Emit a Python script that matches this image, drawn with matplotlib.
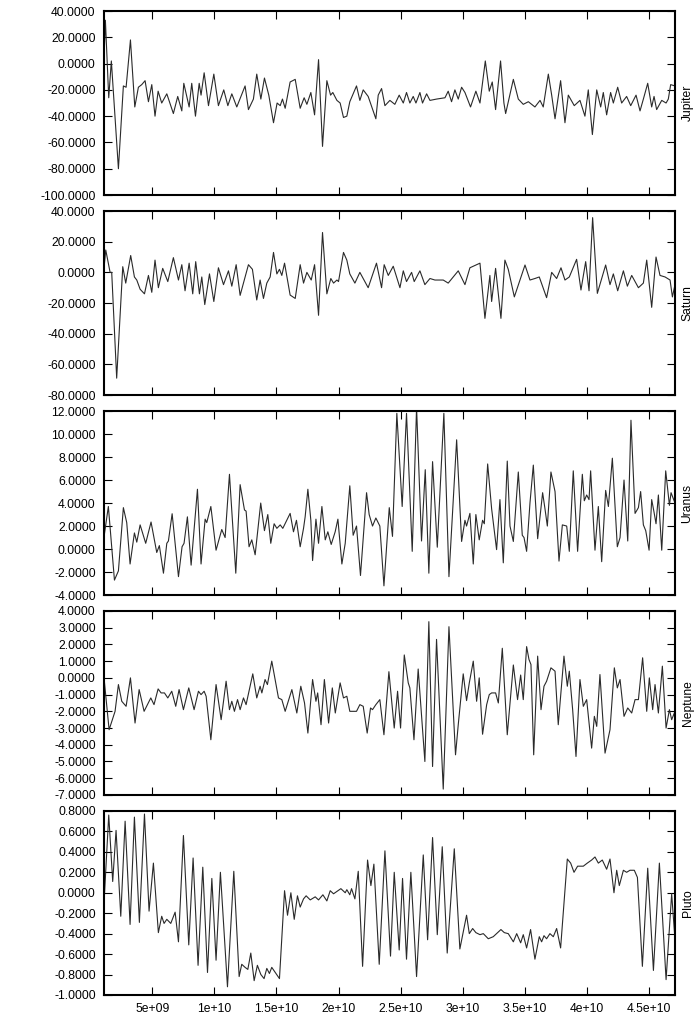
import numpy as np
import matplotlib
matplotlib.use("Agg")
import matplotlib.pyplot as plt
from matplotlib.ticker import FormatStrFormatter

plt.rcParams['font.family'] = ['Liberation Sans', 'DejaVu Sans']

# x values in units of 1e9
jupiter_x = [1.10, 1.21, 1.48, 1.69, 2.26, 2.66, 2.88, 3.23, 3.58, 3.87, 4.14, 4.41, 4.68, 4.95, 5.21,
             5.46, 5.75, 6.16, 6.69, 7.04, 7.37, 7.53, 7.96, 8.17, 8.47, 8.77, 8.92, 9.17, 9.52, 9.95,
             10.32, 10.75, 11.08, 11.40, 11.80, 12.47, 12.74, 13.14, 13.41, 13.74, 14.03, 14.38, 14.76,
             15.05, 15.30, 15.48, 15.70, 16.10, 16.51, 16.91, 17.23, 17.45, 17.77, 18.07, 18.39, 18.71,
             19.06, 19.36, 19.54, 19.87, 20.13, 20.40, 20.67, 20.91, 21.45, 21.72, 21.99, 22.39, 23.01,
             23.20, 23.47, 23.74, 24.14, 24.54, 24.89, 25.22, 25.48, 25.75, 26.02, 26.24, 26.56, 26.77,
             27.10, 27.37, 27.90, 28.58, 28.84, 29.11, 29.38, 29.65, 29.92, 30.19, 30.64, 31.07, 31.40,
             31.83, 32.15, 32.39, 32.66, 33.06, 33.33, 33.47, 34.09, 34.49, 34.89, 35.30, 35.83, 36.24,
             36.50, 36.91, 37.18, 37.45, 37.90, 38.25, 38.52, 39.00, 39.46, 39.86, 40.13, 40.46, 40.81,
             41.13, 41.34, 41.61, 41.93, 42.15, 42.50, 42.82, 43.22, 43.55, 43.98, 44.30, 44.57, 44.92,
             45.24, 45.43, 45.64, 46.05, 46.40, 46.58, 46.77, 47.12]
jupiter_y = [5, 33, -26, 2, -80, -17, -18, 18, -33, -18, -16, -13, -29, -16, -40,
             -21, -30, -23, -38, -25, -36, -15, -33, -15, -40, -15, -24, -7, -32, -8,
             -32, -20, -32, -23, -33, -17, -35, -27, -8, -27, -11, -24, -45,
             -30, -32, -27, -34, -14, -12, -34, -26, -31, -22, -39, 3, -63,
             -13, -24, -22, -28, -30, -41, -40, -29, -17, -28, -20, -25, -42,
             -24, -19, -32, -28, -31, -24, -30, -22, -30, -25, -30, -22, -30,
             -23, -28, -27, -26, -21, -29, -20, -27, -18, -22, -33, -21, -30,
             2, -21, -14, -35, 2, -30, -38, -12, -27, -31, -29, -33, -28,
             -33, -8, -24, -42, -13, -45, -24, -32, -28, -40, -20, -54, -20,
             -33, -22, -39, -22, -30, -18, -30, -25, -32, -24, -36, -27, -15,
             -33, -25, -35, -28, -30, -27, -16, -17]

saturn_x = [1.10, 1.24, 1.59, 1.72, 2.12, 2.61, 2.85, 3.25, 3.55, 3.74, 4.01, 4.36, 4.68, 4.95, 5.21,
            5.48, 5.83, 6.24, 6.69, 7.10, 7.37, 7.63, 7.96, 8.25, 8.49, 8.79, 8.98, 9.22, 9.60, 9.95,
            10.32, 10.73, 11.13, 11.40, 11.75, 12.07, 12.74, 13.06, 13.41, 13.68, 13.95, 14.22, 14.49,
            14.76, 15.03, 15.24, 15.43, 15.65, 16.10, 16.51, 16.91, 17.18, 17.45, 17.80, 18.07, 18.39,
            18.71, 19.06, 19.38, 19.60, 19.87, 20.00, 20.40, 20.67, 20.91, 21.32, 21.72, 22.39, 23.06,
            23.47, 23.68, 24.01, 24.41, 24.95, 25.22, 25.48, 25.89, 26.10, 26.56, 26.96, 27.37, 27.77,
            28.44, 28.84, 29.65, 30.19, 30.59, 31.40, 31.80, 32.20, 32.34, 32.66, 33.09, 33.41, 33.68,
            34.17, 35.03, 35.43, 35.83, 36.18, 36.77, 37.18, 37.58, 37.93, 38.25, 38.60, 39.19, 39.54,
            39.92, 40.19, 40.48, 40.86, 41.53, 41.88, 42.15, 42.50, 42.96, 43.28, 43.63, 44.17, 44.57,
            44.84, 45.24, 45.59, 45.91, 46.32, 46.72, 46.91, 47.12]
saturn_y = [3, 14.6, 0, 0, -69, 3.7, -7, 11, -3, -5, -11, -14, -2, -13, 8,
            -10, 2.6, -6, 9.6, -5, 5, -12, 6, -14, 7, -14, -3, -21, -1, -19,
            3, -8, 1, -9, 5, -15, 5, 2, -18, -5, -17, -7, -3,
            13, -1, 2, -2, 6, -14.8, -17, 5, -7, 0, -5, 5, -28,
            26, -14, -4, -7, -5, -6, 13, 8, -1, -7, 0, -10, 6,
            -10, 5, -2, 4, -10, 1, -6, 0, -6, 1, -8, -4, -5,
            -5, -7, 1, -8, 3, 6, -30, -2, -19, 2.6, -30, 8, 2,
            -16, 4.8, -5, -4, -3, -16.5, 0, -4, 3, -5, -3, 8.5, -11.5,
            7, -12, 35.7, -13.7, 4.8, -8, -1, -12, 1, -9, -2, -10, -7,
            8, -22.8, 10, -2, -3, -5, -16, -8]

uranus_x = [1.10, 1.45, 1.94, 2.26, 2.66, 2.93, 3.20, 3.55, 3.74, 4.01, 4.46, 4.89, 5.35, 5.56, 5.89,
            6.16, 6.29, 6.59, 7.10, 7.39, 7.55, 7.82, 8.12, 8.63, 8.92, 9.25, 9.38, 9.71, 10.13, 10.59,
            10.86, 11.21, 11.72, 12.07, 12.42, 12.55, 12.79, 13.01, 13.28, 13.73, 14.03, 14.30, 14.54,
            14.81, 15.03, 15.30, 15.51, 15.78, 16.10, 16.37, 16.61, 16.91, 17.18, 17.31, 17.53, 17.77,
            17.91, 18.18, 18.39, 18.66, 18.93, 19.14, 19.41, 19.73, 19.95, 20.27, 20.54, 20.91, 21.18,
            21.45, 21.77, 22.26, 22.47, 22.74, 23.01, 23.33, 23.66, 24.09, 24.35, 24.70, 25.13, 25.48,
            25.94, 26.29, 26.69, 26.99, 27.28, 27.58, 27.96, 28.49, 28.90, 29.52, 29.92, 30.19, 30.32,
            30.59, 30.86, 31.07, 31.34, 31.61, 31.75, 32.02, 32.34, 32.74, 33.01, 33.28, 33.60, 33.82,
            34.09, 34.49, 34.81, 34.95, 35.16, 35.43, 35.70, 36.05, 36.45, 36.64, 36.83, 37.12, 37.45,
            37.77, 38.04, 38.39, 38.60, 38.92, 39.27, 39.65, 39.81, 40.00, 40.19, 40.32, 40.67, 40.94,
            41.21, 41.53, 41.75, 42.07, 42.47, 42.69, 43.01, 43.31, 43.57, 43.90, 44.17, 44.35, 44.57,
            44.76, 45.03, 45.24, 45.43, 45.59, 45.78, 46.05, 46.37, 46.67, 46.80, 47.12]
uranus_y = [1.06, 3.7, -2.7, -1.9, 3.6, 2.3, -1.3, 1.4, 0.6, 2.1, 0.5, 2.35, -0.3, 0.3, -2.1,
            0.5, 0.7, 3.07, -2.4, 0.2, 0.5, 2.8, -1.4, 5.2, -1.3, 2.6, 2.3, 3.7, -0.1, 1.7,
            1.0, 6.5, -2.1, 5.6, 3.4, 3.3, 0.2, 0.8, -0.5, 4.0, 1.6, 3.0, 0.5,
            2.2, 1.8, 2.1, 1.8, 2.4, 3.1, 1.5, 2.5, 0.2, 1.8, 2.8, 5.2, 2.5,
            -1.0, 2.6, 0.5, 3.7, 0.8, 1.5, 0.4, 1.5, 2.6, -1.3, 0.5, 5.5, 1.2,
            2.0, -2.3, 4.9, 3.0, 2.0, 2.7, 2.0, -3.2, 3.6, 1.1, 11.8, 3.7, 11.8,
            -0.2, 12.3, 0.7, 6.9, -2.1, 7.6, 0.16, 11.8, -2.4, 9.5, 0.66, 2.5, 2.0,
            3.1, -1.3, 3.0, 0.8, 2.5, 2.2, 7.4, 3.5, -0.05, 4.3, -1.2, 7.65, 2.0,
            0.66, 6.7, 1.2, 1.0, -0.2, 4.0, 7.3, 0.9, 4.9, 3.5, 2.0, 6.7, 5.0,
            -1.05, 2.1, 2.0, -0.2, 6.8, -0.2, 6.5, 4.2, 4.7, 4.3, 6.8, -0.1, 3.7,
            -1.1, 5.1, 3.7, 7.9, 0.2, 1.0, 6.0, 0.7, 11.2, 3.1, 3.6, 5.0, 2.1,
            1.6, -0.1, 4.3, 3.2, 2.2, 4.7, -0.1, 6.8, 3.8, 4.9, 4.0]

neptune_x = [1.10, 1.51, 1.99, 2.26, 2.53, 2.88, 3.23, 3.60, 3.93, 4.33, 4.87, 5.13, 5.46, 5.70, 5.97,
             6.24, 6.56, 6.88, 7.15, 7.50, 7.93, 8.36, 8.71, 8.92, 9.17, 9.33, 9.71, 10.13, 10.54, 10.94,
             11.21, 11.40, 11.61, 11.86, 12.07, 12.34, 12.55, 13.09, 13.41, 13.68, 13.82, 14.08, 14.27,
             14.62, 14.89, 15.16, 15.43, 15.70, 16.24, 16.64, 16.96, 17.26, 17.53, 17.91, 18.18, 18.32,
             18.59, 18.86, 19.20, 19.50, 19.74, 20.13, 20.40, 20.67, 20.91, 21.45, 21.72, 21.99, 22.31,
             22.58, 22.74, 23.01, 23.33, 23.66, 24.06, 24.49, 24.76, 25.00, 25.30, 25.62, 25.75, 26.08,
             26.42, 26.96, 27.28, 27.58, 27.90, 28.44, 28.90, 29.43, 29.65, 30.05, 30.32, 30.54, 30.86,
             31.13, 31.34, 31.61, 31.94, 32.15, 32.34, 32.66, 32.88, 33.20, 33.60, 34.09, 34.43, 34.68,
             34.89, 35.16, 35.35, 35.51, 35.73, 36.05, 36.32, 36.56, 36.77, 37.12, 37.45, 37.71, 38.17,
             38.44, 38.60, 38.87, 39.14, 39.46, 39.73, 40.00, 40.40, 40.62, 40.81, 41.07, 41.48, 41.88,
             42.23, 42.47, 42.69, 43.01, 43.31, 43.63, 43.90, 44.17, 44.51, 44.84, 45.05, 45.32, 45.51,
             45.78, 46.10, 46.40, 46.67, 46.85, 47.12]
neptune_y = [0.0, -3.1, -2.0, -0.4, -1.4, -1.7, 0.0, -2.7, -0.7, -2.0, -1.2, -1.6, -0.66, -0.9, -0.9,
             -1.2, -0.8, -1.7, -0.7, -1.9, -0.6, -1.9, -0.8, -1.0, -0.8, -1.1, -3.7, -0.4, -2.5, -0.2,
             -1.9, -1.4, -2.0, -1.3, -1.9, -1.2, -1.6, 0.24, -1.2, -0.5, -0.9, -0.1, -0.4,
             1.0, -0.1, -1.2, -1.3, -2.0, -0.7, -2.1, -0.5, -1.5, -3.3, -0.1, -1.4, -0.9,
             -2.8, -0.1, -2.7, -0.6, -2.1, -0.3, -1.2, -1.1, -2.0, -2.0, -1.6, -1.7, -3.3,
             -1.8, -1.9, -1.6, -1.3, -3.4, 0.37, -3.0, -0.8, -3.0, 1.37, -0.3, -0.6, -3.7,
             0.53, -5.0, 3.36, -5.3, 2.3, -6.65, 3.06, -4.6, -2.8, 0.24, -1.36, -0.3, 1.0,
             -1.4, 0.0, -3.37, -1.6, -1.0, -0.9, -0.9, -1.5, 1.77, -3.4, 0.77, -1.3, 0.17,
             -1.3, 1.87, 1.1, 0.8, -4.6, 1.3, -1.9, -0.5, -0.2, 0.6, 0.4, -2.8, 1.3,
             -0.5, 0.4, -1.9, -4.7, -0.1, -1.7, -1.3, -4.2, -2.3, -2.9, 0.2, -4.5, -3.1,
             0.6, -0.6, -0.1, -2.3, -1.8, -2.1, -1.3, -1.3, 1.2, -2.0, 0.0, -1.9, -0.4,
             -2.1, 0.7, -3.0, -1.9, -2.5, -2.0]

pluto_x = [1.10, 1.48, 1.80, 2.07, 2.45, 2.80, 3.20, 3.55, 3.95, 4.36, 4.73, 5.08, 5.48, 5.75, 5.94,
           6.16, 6.48, 6.83, 7.10, 7.50, 7.93, 8.28, 8.68, 9.06, 9.44, 9.79, 10.13, 10.48, 11.05, 11.56,
           11.99, 12.20, 12.47, 12.69, 12.93, 13.20, 13.46, 13.74, 14.00, 14.22, 14.43, 14.62, 15.24,
           15.65, 15.89, 16.16, 16.43, 16.69, 16.91, 17.18, 17.39, 17.72, 18.12, 18.39, 18.74, 19.06,
           19.33, 19.60, 20.19, 20.54, 20.67, 20.91, 21.05, 21.32, 21.59, 21.94, 22.34, 22.61, 22.85,
           23.28, 23.74, 24.19, 24.49, 24.89, 25.16, 25.48, 25.83, 26.29, 26.83, 27.18, 27.58, 27.96,
           28.36, 28.76, 29.33, 29.78, 30.32, 30.54, 30.81, 31.07, 31.40, 31.67, 32.07, 32.47, 33.09,
           33.36, 33.68, 34.09, 34.36, 34.68, 34.89, 35.16, 35.48, 35.83, 36.18, 36.37, 36.56, 36.77,
           37.04, 37.31, 37.58, 37.90, 38.44, 38.71, 38.98, 39.27, 39.73, 40.05, 40.40, 40.67, 40.94,
           41.26, 41.61, 41.88, 42.20, 42.42, 42.63, 42.96, 43.22, 43.49, 43.84, 44.09, 44.49, 44.92,
           45.38, 45.86, 46.40, 46.85, 47.12]
pluto_y = [-0.10, 0.76, 0.11, 0.61, -0.23, 0.70, -0.31, 0.74, -0.29, 0.77, -0.18, 0.29, -0.39, -0.23, -0.30,
           -0.26, -0.30, -0.19, -0.48, 0.56, -0.51, 0.34, -0.71, 0.25, -0.78, 0.14, -0.66, 0.20, -0.92, 0.21,
           -0.82, -0.70, -0.73, -0.75, -0.59, -0.86, -0.71, -0.80, -0.84, -0.74, -0.79, -0.73, -0.84,
           0.02, -0.22, 0.00, -0.26, -0.03, -0.14, -0.06, -0.03, -0.07, -0.04, -0.07, -0.02, -0.08,
           0.02, -0.01, 0.04, 0.00, 0.03, -0.02, 0.04, -0.06, 0.21, -0.72, 0.32, 0.07, 0.28,
           -0.70, 0.41, -0.62, 0.20, -0.56, 0.14, -0.65, 0.20, -0.82, 0.37, -0.46, 0.54, -0.41,
           0.45, -0.59, 0.43, -0.55, -0.22, -0.40, -0.35, -0.39, -0.41, -0.40, -0.45, -0.43, -0.36,
           -0.39, -0.40, -0.48, -0.40, -0.49, -0.41, -0.54, -0.36, -0.65, -0.43, -0.48, -0.42, -0.45,
           -0.40, -0.43, -0.35, -0.54, 0.33, 0.29, 0.20, 0.26, 0.26, 0.29, 0.32, 0.35, 0.29,
           0.32, 0.23, 0.33, 0.00, 0.22, 0.07, 0.22, 0.20, 0.22, 0.22, 0.15, -0.72, 0.24,
           -0.76, 0.29, -0.85, -0.01, -0.46]

names = ["Jupiter", "Saturn", "Uranus", "Neptune", "Pluto"]
series_x = [jupiter_x, saturn_x, uranus_x, neptune_x, pluto_x]
series_y = [jupiter_y, saturn_y, uranus_y, neptune_y, pluto_y]
y_ticks = [
    [-100, -80, -60, -40, -20, 0, 20, 40],
    [-80, -60, -40, -20, 0, 20, 40],
    [-4, -2, 0, 2, 4, 6, 8, 10, 12],
    [-7, -6, -5, -4, -3, -2, -1, 0, 1, 2, 3, 4],
    [-1.0, -0.8, -0.6, -0.4, -0.2, 0.0, 0.2, 0.4, 0.6, 0.8],
]
x_ticks = [5e9, 1e10, 1.5e10, 2e10, 2.5e10, 3e10, 3.5e10, 4e10, 4.5e10]
x_range = (1.10e9, 47.12e9)

fig = plt.figure(figsize=(7.0, 10.21), dpi=100)
bottoms = [0.809, 0.6131, 0.4172, 0.2214, 0.0255]
for i in range(5):
    ax = fig.add_axes([0.1486, bottoms[i], 0.8157, 0.1802])
    ax.plot(np.array(series_x[i]) * 1e9, series_y[i], color='#2a2a2a', lw=0.8)
    ax.set_xlim(*x_range)
    ax.set_ylim(y_ticks[i][0], y_ticks[i][-1])
    ax.set_yticks(y_ticks[i])
    ax.yaxis.set_major_formatter(FormatStrFormatter('%.4f'))
    ax.set_xticks(x_ticks)
    ax.xaxis.set_major_formatter(FormatStrFormatter('%g'))
    ax.tick_params(direction='in', top=True, right=True, length=6, width=0.8,
                   labelsize=8.7, pad=6)
    if i < 4:
        ax.tick_params(labelbottom=False)
    for sp in ax.spines.values():
        sp.set_linewidth(1.5)
    ax.text(1.022, 0.5, names[i], rotation=90, transform=ax.transAxes,
            ha='center', va='center', fontsize=8.7)

fig.savefig("out.png", dpi=100)
